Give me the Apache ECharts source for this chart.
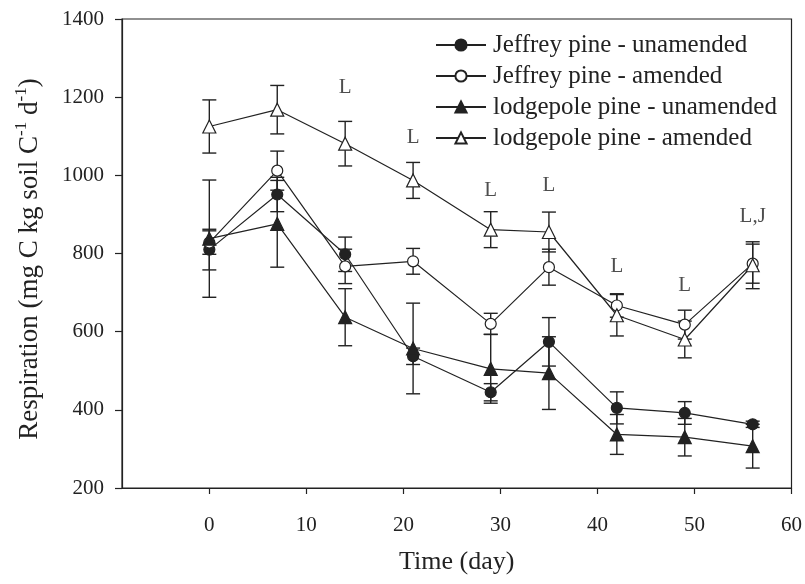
<!DOCTYPE html>
<html>
<head>
<meta charset="utf-8">
<script src="https://cdn.jsdelivr.net/npm/echarts@6/dist/echarts.min.js"></script>
<style>
  html, body { margin: 0; padding: 0; background: #fff; }
  #chart { width: 805px; height: 584px; }
</style>
</head>
<body>
<div id="chart"></div>
<script>
// sampling days
const days = [0, 7, 14, 21, 29, 35, 42, 49, 56];

// respiration means and error
const jeffreyUnamended = [810, 951, 798, 537, 445, 574, 405, 392, 363];
const jeffreyUnamendedErr = [52, 44, 44, 21, 22, 62, 41, 29, 8];
const jeffreyAmended = [828, 1012, 767, 780, 620, 765, 667, 618, 774];
const jeffreyAmendedErr = [30, 50, 44, 33, 27, 46, 30, 37, 50];
const lodgeUnamended = [838, 876, 637, 557, 505, 494, 337, 330, 307];
const lodgeUnamendedErr = [150, 111, 73, 116, 88, 93, 51, 48, 56];
const lodgeAmended = [1125, 1168, 1081, 987, 861, 855, 642, 580, 770];
const lodgeAmendedErr = [68, 62, 57, 46, 46, 51, 53, 47, 60];

// significance letters
const annotDays = [14, 21, 29, 35, 42, 49, 56];
const annotValues = [1224, 1097, 961, 974, 767, 718, 894];
const annotText = ['L', 'L', 'L', 'L', 'L', 'L', 'L,J'];

const xTicks = [0, 10, 20, 30, 40, 50, 60];

const FONT = 'Liberation Serif';
const INK = '#222';

const chart = echarts.init(document.getElementById('chart'));

const groups = [
  {name: 'Jeffrey pine - unamended', data: jeffreyUnamended, err: jeffreyUnamendedErr, symbol: 'circle', fill: INK},
  {name: 'Jeffrey pine - amended', data: jeffreyAmended, err: jeffreyAmendedErr, symbol: 'circle', fill: '#fff'},
  {name: 'lodgepole pine - unamended', data: lodgeUnamended, err: lodgeUnamendedErr, symbol: 'triangle', fill: INK},
  {name: 'lodgepole pine - amended', data: lodgeAmended, err: lodgeAmendedErr, symbol: 'triangle', fill: '#fff'}
];

// 误差线
const errorSeries = groups.map((g) => ({
  type: 'custom',
  name: g.name + ' err',
  z: 1,
  silent: true,
  data: days.map((d, i) => [d, g.data[i] - g.err[i], g.data[i] + g.err[i]]),
  renderItem: (params, api) => {
    const lo = api.coord([api.value(0), api.value(1)]);
    const hi = api.coord([api.value(0), api.value(2)]);
    const hw = 7;
    const style = {stroke: INK, lineWidth: 1.4, fill: null};
    return {
      type: 'group',
      children: [
        {type: 'line', shape: {x1: lo[0], y1: lo[1], x2: hi[0], y2: hi[1]}, style},
        {type: 'line', shape: {x1: lo[0] - hw, y1: lo[1], x2: lo[0] + hw, y2: lo[1]}, style},
        {type: 'line', shape: {x1: hi[0] - hw, y1: hi[1], x2: hi[0] + hw, y2: hi[1]}, style}
      ]
    };
  }
}));

const lineSeries = groups.map((g) => ({
  type: 'line',
  name: g.name,
  z: 3,
  symbol: g.symbol,
  symbolSize: g.symbol === 'triangle' ? 13 : 11,
  showAllSymbol: true,
  data: days.map((d, i) => [d, g.data[i]]),
  lineStyle: {color: INK, width: 1.2},
  itemStyle: {color: g.fill, borderColor: INK, borderWidth: 1.2},
  emphasis: {disabled: true}
}));

const annotSeries = {
  type: 'scatter',
  z: 4,
  silent: true,
  symbolSize: 1,
  itemStyle: {color: 'rgba(0,0,0,0)'},
  data: annotDays.map((d, i) => ({value: [d, annotValues[i]], name: annotText[i]})),
  label: {
    show: true,
    position: 'inside',
    formatter: (p) => p.name,
    color: INK,
    fontFamily: FONT,
    fontSize: 21
  }
};

const option = {
  animation: false,
  backgroundColor: '#fff',
  grid: {
    left: 122, right: 13, top: 19, bottom: 96,
    show: true, borderColor: INK, borderWidth: 1.2, backgroundColor: 'transparent'
  },
  legend: {
    orient: 'vertical',
    left: 430,
    top: 27,
    itemWidth: 50,
    itemHeight: 14,
    itemGap: 5,
    selectedMode: false,
    data: groups.map((g) => g.name),
    textStyle: {fontFamily: FONT, fontSize: 25, lineHeight: 26, color: INK, padding: [0, 0, 0, 2]}
  },
  xAxis: {
    type: 'value',
    min: -9,
    max: 60,
    name: 'Time (day)',
    nameLocation: 'middle',
    nameGap: 61,
    nameTextStyle: {fontFamily: FONT, fontSize: 26, color: INK},
    axisLine: {show: true, onZero: false, lineStyle: {color: INK, width: 1.2}},
    axisTick: {show: true, customValues: xTicks, length: 6, lineStyle: {color: INK, width: 1.2}},
    axisLabel: {customValues: xTicks, margin: 27, fontFamily: FONT, fontSize: 21, color: INK},
    splitLine: {show: false}
  },
  yAxis: {
    type: 'value',
    min: 200,
    max: 1400,
    interval: 200,
    axisLine: {show: true, onZero: false, lineStyle: {color: INK, width: 1.2}},
    axisTick: {show: true, length: 7, lineStyle: {color: INK, width: 1.2}},
    axisLabel: {margin: 18, fontFamily: FONT, fontSize: 21, color: INK, formatter: (v) => String(v)},
    splitLine: {show: false}
  },
  graphic: [{
    type: 'text',
    x: 28,
    y: 259,
    rotation: Math.PI / 2,
    style: {
      text: '{t|Respiration (mg C kg soil C}{s|-1}{t| d}{s|-1}{t|)}',
      align: 'center',
      verticalAlign: 'middle',
      fill: INK,
      rich: {
        t: {fontFamily: FONT, fontSize: 27, color: INK, lineHeight: 30, verticalAlign: 'bottom'},
        s: {fontFamily: FONT, fontSize: 17, color: INK, lineHeight: 30, verticalAlign: 'top'}
      }
    }
  }],
  series: [...errorSeries, ...lineSeries, annotSeries]
};

chart.setOption(option);
</script>
</body>
</html>
